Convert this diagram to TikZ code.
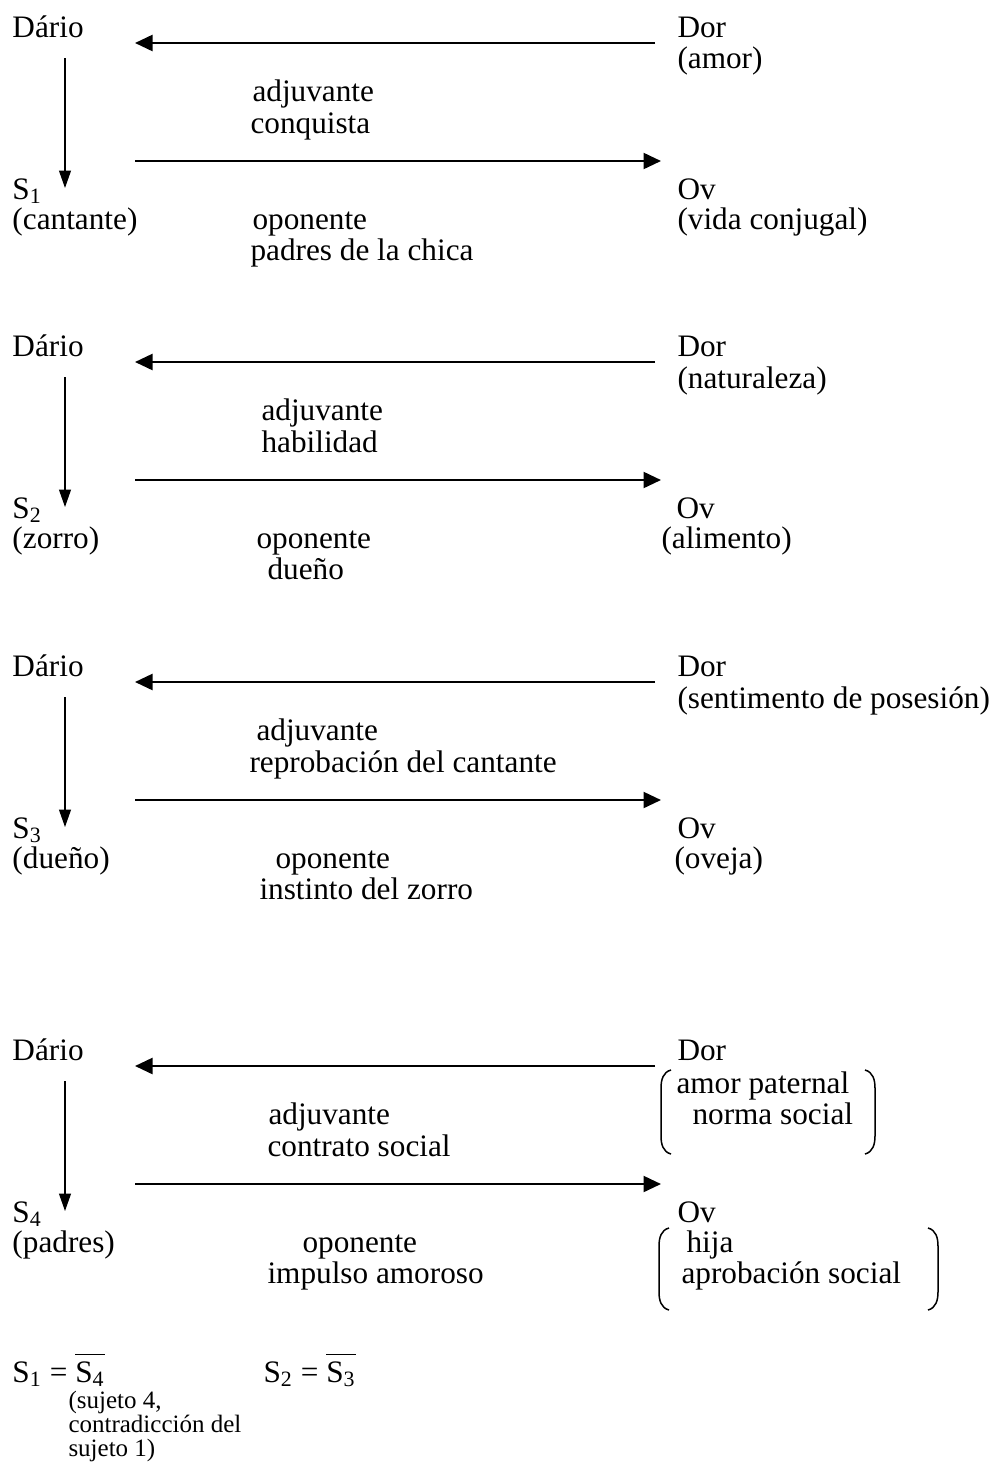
\documentclass[tikz,border=0pt]{standalone}
\usepackage{fontspec}
\setmainfont{Liberation Serif}
\usepackage{tikz}
\usetikzlibrary{arrows.meta}

\tikzset{
  lbl/.style={anchor=base west, inner sep=0pt, font=\fontsize{12.5}{14}\selectfont},
  note/.style={anchor=base west, inner sep=0pt, font=\fontsize{10}{12}\selectfont},
  bigarrow/.style={line width=0.9pt, -{Triangle[length=7pt,width=6.4pt]}},
  downarrow/.style={line width=0.5pt, -{Triangle[length=7pt,width=4.8pt]}},
  bracket/.style={line width=0.6pt}
}

\begin{document}
\begin{tikzpicture}[x=0.4pt, y=-0.4pt]
  \useasboundingbox (0,0) rectangle (997,1474);

  % block 1
  \node[lbl] (dario1) at (12,37) {Dário};
  \node[lbl] (dor1) at (677,37) {Dor};
  \node[lbl] (dor1b) at (677,68) {(amor)};
  \node[lbl] (adj1) at (252,101) {adjuvante};
  \node[lbl] (adj1b) at (250,133) {conquista};
  \node[lbl] (s1) at (12,199) {S\textsubscript{1}};
  \node[lbl] (s1b) at (12,229) {(cantante)};
  \node[lbl] (op1) at (252,229) {oponente};
  \node[lbl] (op1b) at (250,260) {padres de la chica};
  \node[lbl] (ov1) at (677,199) {Ov};
  \node[lbl] (ov1b) at (677,229) {(vida conjugal)};
  \coordinate (r1a) at (655,43);
  \coordinate (l1a) at (135,43);
  \coordinate (l1b) at (135,161);
  \coordinate (r1b) at (661,161);
  \coordinate (t1) at (65,58);
  \coordinate (b1) at (65,188);
  \draw[bigarrow] (r1a) -- (l1a);
  \draw[bigarrow] (l1b) -- (r1b);
  \draw[downarrow] (t1) -- (b1);

  % block 2
  \node[lbl] (dario2) at (12,356) {Dário};
  \node[lbl] (dor2) at (677,356) {Dor};
  \node[lbl] (dor2b) at (677,388) {(naturaleza)};
  \node[lbl] (adj2) at (261,420) {adjuvante};
  \node[lbl] (adj2b) at (261,452) {habilidad};
  \node[lbl] (s2) at (12,518) {S\textsubscript{2}};
  \node[lbl] (s2b) at (12,548) {(zorro)};
  \node[lbl] (op2) at (256,548) {oponente};
  \node[lbl] (op2b) at (267,579) {dueño};
  \node[lbl] (ov2) at (676,518) {Ov};
  \node[lbl] (ov2b) at (661,548) {(alimento)};
  \coordinate (r2a) at (655,362);
  \coordinate (l2a) at (135,362);
  \coordinate (l2b) at (135,480);
  \coordinate (r2b) at (661,480);
  \coordinate (t2) at (65,377);
  \coordinate (b2) at (65,507);
  \draw[bigarrow] (r2a) -- (l2a);
  \draw[bigarrow] (l2b) -- (r2b);
  \draw[downarrow] (t2) -- (b2);

  % block 3
  \node[lbl] (dario3) at (12,676) {Dário};
  \node[lbl] (dor3) at (677,676) {Dor};
  \node[lbl] (dor3b) at (677,708) {(sentimento de posesión)};
  \node[lbl] (adj3) at (256,740) {adjuvante};
  \node[lbl] (adj3b) at (249,772) {reprobación del cantante};
  \node[lbl] (s3) at (12,838) {S\textsubscript{3}};
  \node[lbl] (s3b) at (12,868) {(dueño)};
  \node[lbl] (op3) at (275,868) {oponente};
  \node[lbl] (op3b) at (259,899) {instinto del zorro};
  \node[lbl] (ov3) at (677,838) {Ov};
  \node[lbl] (ov3b) at (674,868) {(oveja)};
  \coordinate (r3a) at (655,682);
  \coordinate (l3a) at (135,682);
  \coordinate (l3b) at (135,800);
  \coordinate (r3b) at (661,800);
  \coordinate (t3) at (65,697);
  \coordinate (b3) at (65,827);
  \draw[bigarrow] (r3a) -- (l3a);
  \draw[bigarrow] (l3b) -- (r3b);
  \draw[downarrow] (t3) -- (b3);

  % block 4
  \node[lbl] (dario4) at (12,1060) {Dário};
  \node[lbl] (dor4) at (677,1060) {Dor};
  \node[lbl] (dor4b) at (676,1093) {amor paternal};
  \node[lbl] (dor4c) at (692,1124) {norma social};
  \node[lbl] (adj4) at (268,1124) {adjuvante};
  \node[lbl] (adj4b) at (267,1156) {contrato social};
  \node[lbl] (s4) at (12,1222) {S\textsubscript{4}};
  \node[lbl] (s4b) at (12,1252) {(padres)};
  \node[lbl] (op4) at (302,1252) {oponente};
  \node[lbl] (op4b) at (267,1283) {impulso amoroso};
  \node[lbl] (ov4) at (677,1222) {Ov};
  \node[lbl] (ov4b) at (686,1252) {hija};
  \node[lbl] (ov4c) at (681,1283) {aprobación social};
  \coordinate (r4a) at (655,1066);
  \coordinate (l4a) at (135,1066);
  \coordinate (l4b) at (135,1184);
  \coordinate (r4b) at (661,1184);
  \coordinate (t4) at (65,1081);
  \coordinate (b4) at (65,1211);
  \draw[bigarrow] (r4a) -- (l4a);
  \draw[bigarrow] (l4b) -- (r4b);
  \draw[downarrow] (t4) -- (b4);

  % brackets
  \draw[bracket] (671,1070) .. controls (663,1072) and (661,1080) .. (661,1088)
    -- (661,1136) .. controls (661,1144) and (663,1152) .. (671,1154);
  \draw[bracket] (865,1070) .. controls (873,1072) and (875,1080) .. (875,1088)
    -- (875,1136) .. controls (875,1144) and (873,1152) .. (865,1154);
  \draw[bracket] (669,1228) .. controls (661,1230) and (659,1238) .. (659,1246)
    -- (659,1292) .. controls (659,1300) and (661,1308) .. (669,1310);
  \draw[bracket] (928,1228) .. controls (936,1230) and (938,1238) .. (938,1246)
    -- (938,1292) .. controls (938,1300) and (936,1308) .. (928,1310);

  % relations
  \node[lbl] (rel1) at (12,1382) {S\textsubscript{1} = $\overline{\hbox{\strut S\textsubscript{4}}}$};
  \node[lbl] (rel2) at (263,1382) {S\textsubscript{2} = $\overline{\hbox{\strut S\textsubscript{3}}}$};
  \node[note] (rel1a) at (68,1408) {(sujeto 4,};
  \node[note] (rel1b) at (68,1432) {contradicción del};
  \node[note] (rel1c) at (68,1456) {sujeto 1)};
\end{tikzpicture}
\end{document}
